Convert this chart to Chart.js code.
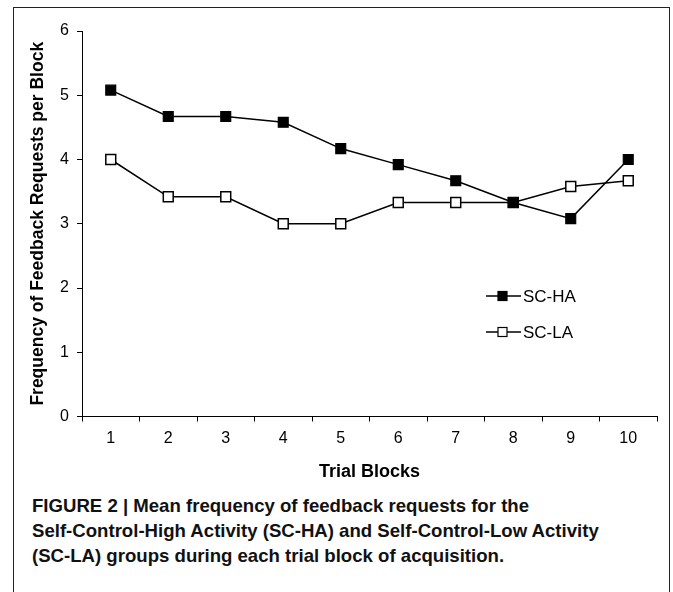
<!DOCTYPE html>
<html>
<head>
<meta charset="utf-8">
<script src="https://cdn.jsdelivr.net/npm/chart.js@4"></script>
<style>
  html, body { margin: 0; padding: 0; background: #fff; }
  body { width: 673px; height: 592px; position: relative; overflow: hidden; }
  .frame { position: absolute; left: 13px; top: 7px; width: 657px; height: 600px; border: 1px solid #222; box-sizing: border-box; }
  #wrap { position: absolute; left: 0; top: 0; width: 673px; height: 490px; }
  .caption { position: absolute; left: 32px; top: 493px; font-family: "Liberation Sans Narrow", "Arial Narrow", "Liberation Sans", Arial, sans-serif; font-weight: bold; font-size: 18.6px; line-height: 25px; color: #111; white-space: nowrap; }
</style>
</head>
<body>
<div class="frame"></div>
<div id="wrap"><canvas id="chart"></canvas></div>
<div class="caption">FIGURE 2 | Mean frequency of feedback requests for the<br>Self-Control-High Activity (SC-HA) and Self-Control-Low Activity<br>(SC-LA) groups during each trial block of acquisition.</div>
<script>
const blocks = ["1", "2", "3", "4", "5", "6", "7", "8", "9", "10"];
const scHA = [5.08, 4.67, 4.67, 4.58, 4.17, 3.92, 3.67, 3.33, 3.08, 4.0];
const scLA = [4.0, 3.42, 3.42, 3.0, 3.0, 3.33, 3.33, 3.33, 3.58, 3.67];
const yTicks = [0, 1, 2, 3, 4, 5, 6];

const font = "'Liberation Sans', Arial, sans-serif";

// legend: line with square marker in the middle, drawn inside the plot
const lineLegend = {
  id: "lineLegend",
  afterDraw(chart) {
    const ctx = chart.ctx;
    const items = [
      { label: "SC-HA", fill: "#000", y: 296 },
      { label: "SC-LA", fill: "#fff", y: 332 },
    ];
    ctx.save();
    items.forEach((it) => {
      ctx.strokeStyle = "#000";
      ctx.lineWidth = 1.5;
      ctx.beginPath();
      ctx.moveTo(486, it.y);
      ctx.lineTo(521, it.y);
      ctx.stroke();
      ctx.fillStyle = it.fill;
      ctx.fillRect(498, it.y - 4.5, 9, 9);
      ctx.lineWidth = 1.2;
      ctx.strokeRect(498, it.y - 4.5, 9, 9);
      ctx.fillStyle = "#000";
      ctx.font = "17px " + font;
      ctx.textBaseline = "middle";
      ctx.fillText(it.label, 523, it.y + 1);
    });
    ctx.restore();
  },
};

new Chart(document.getElementById("chart"), {
  type: "line",
  data: {
    labels: blocks,
    datasets: [
      {
        label: "SC-HA",
        data: scHA,
        borderColor: "#000",
        borderWidth: 1.5,
        pointStyle: "rect",
        pointRadius: 7,
        pointBackgroundColor: "#000",
        pointBorderColor: "#000",
        pointBorderWidth: 1.2,
        tension: 0,
      },
      {
        label: "SC-LA",
        data: scLA,
        borderColor: "#000",
        borderWidth: 1.5,
        pointStyle: "rect",
        pointRadius: 7,
        pointBackgroundColor: "#fff",
        pointBorderColor: "#000",
        pointBorderWidth: 1.5,
        tension: 0,
      },
    ],
  },
  options: {
    responsive: true,
    maintainAspectRatio: false,
    animation: false,
    layout: { padding: { top: 31, right: 16, left: 24, bottom: 3 } },
    plugins: { legend: { display: false }, tooltip: { enabled: false } },
    scales: {
      x: {
        offset: true,
        grid: { offset: true, drawOnChartArea: false, drawTicks: true, tickLength: 5, color: "#000", lineWidth: 1 },
        border: { display: true, color: "#000", width: 1 },
        ticks: { color: "#000", font: { family: font, size: 16 }, padding: 7, maxRotation: 0 },
        title: { display: true, text: "Trial Blocks", color: "#000", font: { family: font, size: 18, weight: "bold" }, padding: { top: 4, bottom: 4 } },
        afterFit(scale) { scale.height = 70.5; },
      },
      y: {
        min: 0,
        max: 6,
        afterBuildTicks(scale) { scale.ticks = yTicks.map((v) => ({ value: v })); },
        grid: { drawOnChartArea: false, drawTicks: true, tickLength: 5, color: "#000", lineWidth: 1 },
        border: { display: true, color: "#000", width: 1 },
        ticks: { color: "#000", font: { family: font, size: 16 }, padding: 8 },
        title: { display: true, text: "Frequency of Feedback Requests per Block", color: "#000", font: { family: font, size: 17.5, weight: "bold" }, padding: { top: 4, bottom: 4 } },
        afterFit(scale) { scale.width = 58; },
      },
    },
  },
  plugins: [lineLegend],
});
</script>
</body>
</html>
